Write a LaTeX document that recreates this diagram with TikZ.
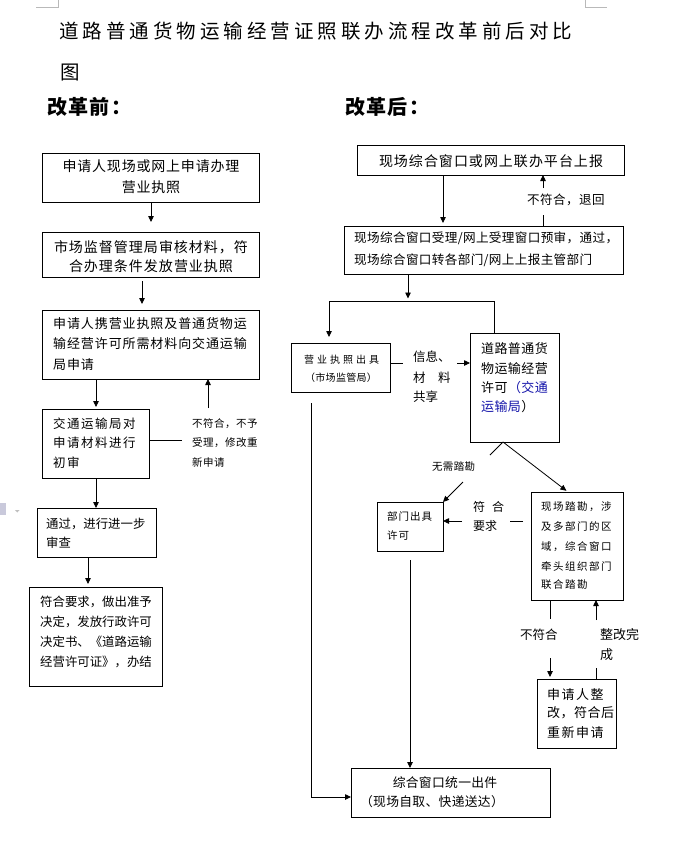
\documentclass[tikz,border=0pt]{standalone}
\usepackage{fontspec}
\setmainfont{Noto Sans CJK SC}
\usetikzlibrary{arrows.meta}
\definecolor{linkblue}{RGB}{20,20,170}
\newcommand\fs[1]{\fontsize{#1}{#1}\selectfont}
\def\LSend{LSEND}
\newcommand\LS[2]{\def\LSamt{#1}\LSaux#2\LSend}
\def\LSaux#1{\ifx#1\LSend\else#1\hskip\LSamt\relax\expandafter\LSaux\fi}
\tikzset{
  box/.style={draw, line width=0.8pt, inner sep=0pt, outer sep=0pt, anchor=north west},
  t/.style={inner sep=0pt, anchor=base west},
  tc/.style={inner sep=0pt, anchor=base},
  ln/.style={line width=0.8pt},
  arr/.style={line width=0.8pt, -{Triangle[length=6pt,width=5.5pt]}},
  cornermark/.style={draw=gray!55, line width=0.6pt}
}
\begin{document}
\begin{tikzpicture}[x=1pt,y=-1pt]
\fill[white] (0,0) rectangle (674,846);
\useasboundingbox (0,0) rectangle (674,846);
% page corner marks and side icon
\draw[cornermark] (36,7) -- (58,7) -- (58,0);
\draw[cornermark] (585,0) -- (585,7) -- (607,7);
\fill[blue!20!gray!35] (0,503) rectangle (6,515);
\fill[gray!50] (15,510) -- (19.5,510) -- (17.25,512.5) -- cycle;
% title
\node[t, font=\fs{19.5}] (title1) at (59,38.2) {\LS{4pt}{道路普通货物运输经营证照联办流程改革前后对比}};
\node[t, font=\fs{19.5}] (title2) at (60,79.2) {图};
\node[t, font=\fs{20}\bfseries] (before) at (47,114.4) {\LS{1.3pt}{改革前：}};
\node[t, font=\fs{20}\bfseries] (after) at (345,114.4) {\LS{1.3pt}{改革后：}};

% ===== before =====
\node[box, minimum width=217pt, minimum height=49pt] (A1) at (42,153) {};
\node[tc, font=\fs{14}] (A1a) at (151,171.2) {\LS{0.8pt}{申请人现场或网上申请办理}};
\node[tc, font=\fs{14}] (A1b) at (151,192.2) {\LS{0.8pt}{营业执照}};

\node[box, minimum width=217pt, minimum height=45pt] (A2) at (42,232) {};
\node[tc, font=\fs{14}] (A2a) at (151,252.2) {\LS{1pt}{市场监督管理局审核材料，符}};
\node[tc, font=\fs{14}] (A2b) at (151,271.2) {\LS{1pt}{合办理条件发放营业执照}};

\node[box, minimum width=217pt, minimum height=69pt] (A3) at (42,310) {};
\node[t, font=\fs{13}] (A3a) at (53,328.8) {\LS{0.9pt}{申请人携营业执照及普通货物运}};
\node[t, font=\fs{13}] (A3b) at (53,348.8) {\LS{0.9pt}{输经营许可所需材料向交通运输}};
\node[t, font=\fs{13}] (A3c) at (53,369.8) {\LS{0.9pt}{局申请}};

\node[box, minimum width=107pt, minimum height=69pt] (A4) at (42,409) {};
\node[t, font=\fs{12.5}] (A4a) at (53,428.6) {\LS{1.5pt}{交通运输局对}};
\node[t, font=\fs{12.5}] (A4b) at (53,447.6) {\LS{1.5pt}{申请材料进行}};
\node[t, font=\fs{12.5}] (A4c) at (53,467.6) {\LS{1.5pt}{初审}};

\node[t, font=\fs{10.5}] (L1a) at (192,427.9) {\LS{0.5pt}{不符合，不予}};
\node[t, font=\fs{10.5}] (L1b) at (192,446.9) {\LS{0.5pt}{受理，修改重}};
\node[t, font=\fs{10.5}] (L1c) at (192,466.9) {\LS{0.5pt}{新申请}};

\node[box, minimum width=119pt, minimum height=49pt] (A5) at (37,508) {};
\node[t, font=\fs{12.4}] (A5a) at (46,528.6) {通过，进行进一步};
\node[t, font=\fs{12.4}] (A5b) at (46,547.6) {审查};

\node[box, minimum width=133pt, minimum height=99pt] (A6) at (29,587) {};
\node[t, font=\fs{12.4}] (A6a) at (40,606.6) {符合要求，做出准予};
\node[t, font=\fs{12.4}] (A6b) at (40,626.6) {决定，发放行政许可};
\node[t, font=\fs{12.4}] (A6c) at (40,646.6) {决定书、《道路运输};
\node[t, font=\fs{12.4}] (A6d) at (40,666.6) {经营许可证》，办结};

\draw[arr, shorten >=10pt] ([xshift=0.5pt]A1.south) -- ([xshift=0.5pt]A2.north);
\draw[arr, shorten <=4pt, shorten >=6pt] ([xshift=-8.5pt]A2.south) -- ([xshift=-8.5pt]A3.north);
\draw[arr, shorten >=2pt] ([xshift=-54.5pt]A3.south) -- ([xshift=0.5pt]A4.north);
\draw[arr] ([xshift=0.5pt]A4.south) -- ([xshift=-0.5pt]A5.north);
\draw[arr, shorten >=3pt] ([xshift=-8.5pt]A5.south) -- ([xshift=-7.5pt]A6.north);
\coordinate (rejA) at (182,440);
\coordinate (rejB) at (208,408);
\draw[ln] (A4.east |- rejA) -- (rejA);
\draw[arr] (rejB) -- (rejB |- A3.south);

% ===== after =====
\node[box, minimum width=267pt, minimum height=30pt] (B1) at (357,145) {};
\node[tc, font=\fs{14}] (B1a) at (491,166.2) {\LS{1pt}{现场综合窗口或网上联办平台上报}};

\node[box, minimum width=279pt, minimum height=48pt] (B2) at (344,226) {};
\node[t, font=\fs{12.6}] (B2a) at (354,242.7) {\LS{0.35pt}{现场综合窗口受理/网上受理窗口预审，通过，}};
\node[t, font=\fs{12.6}] (B2b) at (354,264.7) {\LS{0.35pt}{现场综合窗口转各部门/网上上报主管部门}};

\node[t, font=\fs{12.5}] (ret) at (527,204.6) {\LS{0.5pt}{不符合，退回}};

\draw[arr, shorten >=3pt] ([xshift=-47.5pt]B1.south) -- ([xshift=-40.5pt]B2.north);
\coordinate (retA) at (543,215);
\coordinate (retB) at (543,188);
\draw[ln] (retA |- B2.north) -- (retA);
\draw[arr] (retB) -- (retB |- B1.south);

\coordinate (split) at (408,301);
\coordinate (splitL) at (329,301);
\coordinate (splitR) at (494,301);
\draw[arr, shorten >=2.5pt] (split |- B2.south) -- (split);
\draw[ln] (splitL) -- (splitR);

\node[box, minimum width=99pt, minimum height=49pt] (C1) at (291,343) {};
\node[tc, font=\fs{10}] (C1a) at (341.5,363.7) {\LS{3pt}{营业执照出具}};
\node[tc, font=\fs{10}] (C1b) at (341,381.7) {\LS{0.3pt}{（市场监管局）}};

\node[box, minimum width=89pt, minimum height=109pt] (C2) at (470,333) {};
\node[t, font=\fs{13}] (C2a) at (481,353.8) {\LS{0.4pt}{道路普通货}};
\node[t, font=\fs{13}] (C2b) at (481,373.8) {\LS{0.4pt}{物运输经营}};
\node[t, font=\fs{13}] (C2c) at (481,392.8) {\LS{0.4pt}{许可}\textcolor{linkblue}{\LS{0.4pt}{（交通}}};
\node[t, font=\fs{13}] (C2d) at (481,411.8) {\textcolor{linkblue}{\LS{0.4pt}{运输局}}）};

\draw[arr, shorten >=6pt] (splitL) -- (splitL |- C1.north);
\draw[ln] (splitR) -- (splitR |- C2.north);

\node[t, font=\fs{12.5}] (shA) at (413,361.6) {信息、};
\node[t, font=\fs{12.5}] (shB) at (413,382.6) {材　料};
\node[t, font=\fs{12.5}] (shC) at (413,401.6) {共享};
\coordinate (shL) at (403,363);
\coordinate (shR) at (457,363);
\draw[ln] (C1.east |- shL) -- (shL);
\draw[arr] (shR) -- (shR -| C2.west);

\node[box, minimum width=66pt, minimum height=49pt] (D1) at (377,502) {};
\node[t, font=\fs{10.5}] (D1a) at (387,520.9) {\LS{1pt}{部门出具}};
\node[t, font=\fs{10.5}] (D1b) at (387,539.9) {\LS{1pt}{许可}};

\node[box, minimum width=92pt, minimum height=108pt] (D2) at (531,492) {};
\node[t, font=\fs{10.5}] (D2a) at (541,510.9) {\LS{1.5pt}{现场踏勘，涉}};
\node[t, font=\fs{10.5}] (D2b) at (541,530.9) {\LS{1.5pt}{及多部门的区}};
\node[t, font=\fs{10.5}] (D2c) at (541,550.9) {\LS{1.5pt}{域，综合窗口}};
\node[t, font=\fs{10.5}] (D2d) at (541,570.9) {\LS{1.5pt}{牵头组织部门}};
\node[t, font=\fs{10.5}] (D2e) at (541,588.9) {\LS{1.5pt}{联合踏勘}};

\node[t, font=\fs{10.5}] (noinsp) at (432,470.9) {\LS{0.3pt}{无需踏勘}};
\coordinate (nA) at (490,455);
\coordinate (nB) at (463,482);
\draw[ln] ([xshift=-11.5pt]C2.south) -- (nA);
\draw[arr] (nB) -- (D1.north east);
\draw[arr, shorten >=2pt] ([xshift=-11.5pt]C2.south) -- ([xshift=-9pt]D2.north);

\node[t, font=\fs{12}] (okA) at (473,511.4) {\LS{7pt}{符合}};
\node[t, font=\fs{12}] (okB) at (473,530.4) {要求};
\coordinate (okL) at (510,521);
\coordinate (okR) at (462,521);
\draw[ln, shorten <=8pt] (D2.west |- okL) -- (okL);
\draw[arr] (okR) -- (okR -| D1.east);

\node[box, minimum width=79pt, minimum height=69pt] (E) at (537,679) {};
\node[t, font=\fs{13}] (Ea) at (547,699.8) {\LS{1.5pt}{申请人整}};
\node[t, font=\fs{13}] (Eb) at (547,717.8) {\LS{0.5pt}{改，符合后}};
\node[t, font=\fs{13}] (Ec) at (547,737.8) {\LS{1.5pt}{重新申请}};

\node[t, font=\fs{12.5}] (fail) at (520,639.6) {不符合};
\node[t, font=\fs{13}] (fixA) at (600,639.8) {整改完};
\node[t, font=\fs{13}] (fixB) at (600,659.8) {成};
\coordinate (uA) at (550,619);
\coordinate (uB) at (550,658);
\draw[ln] (D2.south -| uA) -- (uA);
\draw[arr, shorten >=2pt] (uB) -- (uB |- E.north);
\coordinate (vA) at (596,668);
\coordinate (vB) at (596,620);
\draw[ln] (E.north -| vA) -- (vA);
\draw[arr] (vB) -- (vB |- D2.south);

\node[box, minimum width=199pt, minimum height=49pt] (F) at (351,768) {};
\node[tc, font=\fs{12.8}] (Fa) at (445,787.7) {\LS{0.3pt}{综合窗口统一出件}};
\node[tc, font=\fs{12.8}] (Fb) at (432,806.7) {\LS{0.3pt}{（现场自取、快递送达）}};

\draw[arr, shorten <=9pt] (D1.south) -- (D1.south |- F.north);
\draw[arr, shorten <=11pt] ([xshift=-29.5pt]C1.south) |- ([yshift=-4.5pt]F.west);
\end{tikzpicture}
\end{document}
